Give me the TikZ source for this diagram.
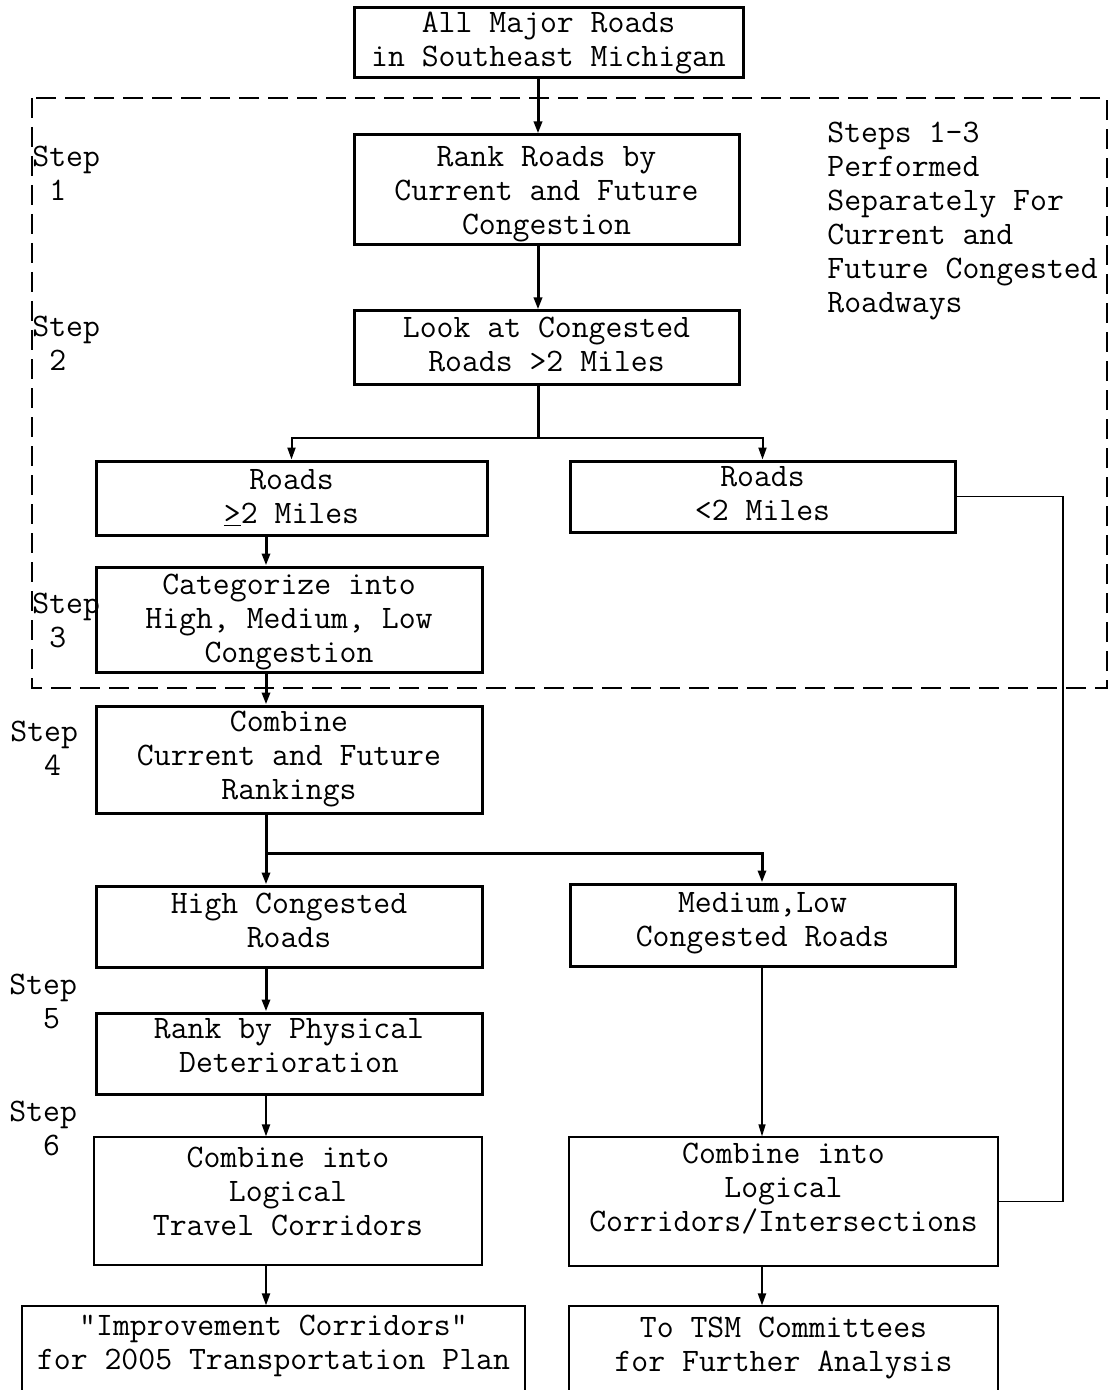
\documentclass[tikz,border=0pt]{standalone}
\usetikzlibrary{arrows.meta}
\begin{document}
\begin{tikzpicture}[x=0.5pt,y=-0.5pt,
  font=\ttfamily\fontsize{16.4}{17}\selectfont,
  box/.style={draw, line width=1.5pt, rectangle, align=center, inner sep=0pt},
  tbox/.style={draw, line width=0.6pt, rectangle, align=center, inner sep=0pt},
  arr/.style={line width=1.5pt, -{Triangle[length=6pt,width=4pt]}},
  marr/.style={line width=1pt, -{Triangle[length=6pt,width=4pt]}},
  tarr/.style={line width=0.6pt, -{Triangle[length=6pt,width=3.5pt]}},
  steplbl/.style={anchor=west, align=left, inner sep=0pt}]
\useasboundingbox (0,0) rectangle (1109,1390);
\clip (0,0) rectangle (1109,1390);
\fill[white] (0,0) rectangle (1109,1390);

% column coordinates
\coordinate (sp) at (538,0);
\coordinate (lc) at (266,0);
\coordinate (rcol) at (762,0);
\coordinate (rc) at (1063,0);
\coordinate (j1) at (538,438);
\coordinate (j2) at (266,853);

% dashed frame
\draw[line width=1.3pt, dash pattern=on 10pt off 4.5pt] (32,98) rectangle (1107,688);

% boxes
\node[box, minimum width=194.5pt, minimum height=35pt] (top) at (548.5,43) {All Major Roads\\in Southeast Michigan};
\node[box, minimum width=192.5pt, minimum height=55pt, text depth=0pt] (b1) at (546.5,190) {Rank Roads by\\Current and Future\\Congestion};
\node[box, minimum width=192.5pt, minimum height=36.5pt, text depth=3pt] (b2) at (546.5,347.5) {Look at Congested\\Roads >2 Miles};
\node[box, minimum width=195.5pt, minimum height=37pt, text depth=2pt] (b3) at (291.5,498) {Roads\\\underline{>}2 Miles};
\node[box, minimum width=192.5pt, minimum height=35.5pt, text depth=3pt] (b4) at (762.5,496.5) {Roads\\<2 Miles};
\node[box, minimum width=193pt, minimum height=52.5pt, text depth=1.6pt] (b5) at (289,619.5) {Categorize into\\High, Medium, Low\\Congestion};
\node[box, minimum width=193pt, minimum height=53.5pt] (b6) at (289,759.5) {Combine\\Current and Future\\Rankings};
\node[box, minimum width=193pt, minimum height=40.5pt, text depth=6pt] (b7) at (289,926.5) {High Congested\\Roads};
\node[box, minimum width=192.5pt, minimum height=41pt, text depth=5.6pt] (b8) at (762.5,925) {Medium,Low\\Congested Roads};
\node[box, minimum width=193pt, minimum height=40.5pt, text depth=8pt] (b9) at (289,1053.5) {Rank by Physical\\Deterioration};
\node[tbox, minimum width=194pt, minimum height=64pt, text depth=10pt] (b10) at (288,1201) {Combine into\\Logical\\Travel Corridors};
\node[tbox, minimum width=214.5pt, minimum height=64.5pt, text depth=14pt] (b11) at (783.5,1201.5) {Combine into\\Logical\\Corridors/Intersections};
\node[tbox, minimum width=251.5pt, minimum height=47pt, text depth=10.6pt] (b12) at (273.5,1353) {"Improvement Corridors"\\for 2005 Transportation Plan};
\node[tbox, minimum width=214.5pt, minimum height=47pt, text depth=8.6pt] (b13) at (783.5,1353) {To TSM Committees\\for Further Analysis};

% step labels
\node[steplbl] (s1) at (32,173.5) {Step\\\hphantom{S}1};
\node[steplbl] (s2) at (32,343.5) {Step\\\hphantom{S}2};
\node[steplbl] (s3) at (32,620.5) {Step\\\hphantom{S}3};
\node[steplbl] (s4) at (10,748.5) {Step\\\hphantom{St}4};
\node[steplbl] (s5) at (9,1001.5) {Step\\\hphantom{St}5};
\node[steplbl] (s6) at (9,1128.5) {Step\\\hphantom{St}6};

% note
\node[anchor=west, align=left, inner sep=0pt] (note) at (827,221.5) {Steps 1-3\\Performed\\Separately For\\Current and\\Future Congested\\Roadways};

% connectors
\draw[arr] (top.south -| sp) -- (b1.north -| sp);
\draw[arr] (b1.south -| sp) -- (b2.north -| sp);
\draw[line width=1.5pt] (b2.south -| sp) -- (j1);
\draw[marr] (j1) -| (b3.north);
\draw[marr] (j1) -| (b4.north);
\draw[arr] (b3.south -| lc) -- (b5.north -| lc);
\draw[arr] (b5.south -| lc) -- (b6.north -| lc);
\draw[line width=1.5pt] (b6.south -| lc) -- (j2);
\draw[arr] (j2) -- (b7.north -| lc);
\draw[arr] (j2) -| (b8.north -| rcol);
\draw[arr] (b7.south -| lc) -- (b9.north -| lc);
\draw[marr] (b9.south -| lc) -- (b10.north -| lc);
\draw[marr] (b10.south -| lc) -- (b12.north -| lc);
\draw[tarr] (b8.south -| rcol) -- (b11.north -| rcol);
\draw[marr] (b11.south -| rcol) -- (b13.north -| rcol);
\draw[line width=0.6pt] (b4.east) -- (b4.east -| rc) -- (b11.east -| rc) -- (b11.east);
\end{tikzpicture}
\end{document}
